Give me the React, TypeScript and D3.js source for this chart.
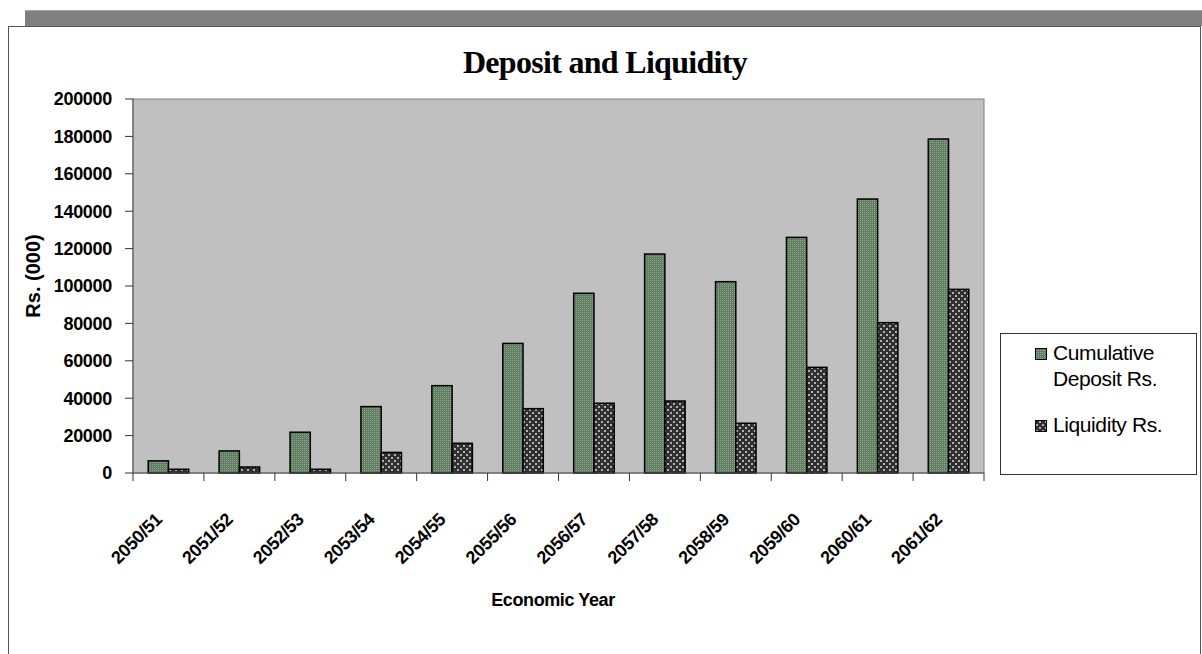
import React from "react";
import * as d3 from "d3";

const categories = ["2050/51", "2051/52", "2052/53", "2053/54", "2054/55", "2055/56", "2056/57", "2057/58", "2058/59", "2059/60", "2060/61", "2061/62"];
const deposit = [6500, 11800, 21800, 35500, 46700, 69300, 96100, 117100, 102300, 126000, 146500, 178600];
const liquidity = [2000, 3200, 2000, 11000, 15900, 34400, 37300, 38500, 26600, 56500, 80400, 98200];
const yTicks = [0, 20000, 40000, 60000, 80000, 100000, 120000, 140000, 160000, 180000, 200000];
const seriesNames = ["Cumulative Deposit Rs.", "Liquidity Rs."];

const W = 1202, H = 654;
const plot = { left: 133, right: 984, top: 99, bottom: 473 };
const sans = "'Liberation Sans', Arial, sans-serif";

export default function App() {
  const x0 = d3.scaleBand<string>().domain(categories).range([plot.left, plot.right]).padding(0);
  const bw = x0.bandwidth();
  const barW = bw / 3.5;
  const x1 = d3.scaleBand<string>().domain(seriesNames).range([0, barW * 2]).padding(0);
  const y = d3.scaleLinear().domain([0, 200000]).range([plot.bottom, plot.top]);
  const series = [
    { name: seriesNames[0], values: deposit, fill: "url(#patDep)" },
    { name: seriesNames[1], values: liquidity, fill: "url(#patLiq)" },
  ];
  const boundaries = categories.map((c) => x0(c)!).concat([plot.right]);

  return (
    <svg width={W} height={H} style={{ position: "absolute", left: 0, top: 0, background: "#fff" }}>
      <defs>
        <pattern id="patDep" width="2" height="2" patternUnits="userSpaceOnUse">
          <rect width="2" height="2" fill="#5f7d5f" />
          <rect width="1" height="1" fill="#93a893" />
        </pattern>
        <pattern id="patLiq" width="6" height="6" patternUnits="userSpaceOnUse">
          <rect width="6" height="6" fill="#303030" />
          <rect x="1" y="1" width="2" height="2" fill="#b0b0b0" />
          <rect x="4" y="4" width="2" height="2" fill="#b0b0b0" />
        </pattern>
      </defs>
      {/* frame */}
      <rect x={25} y={10} width={W - 25} height={16} fill="#808080" />
      <line x1={25} x2={W} y1={10.5} y2={10.5} stroke="#a8a8a8" />
      <rect x={8.5} y={26.5} width={1192} height={700} fill="#fff" stroke="#555" />

      {/* title */}
      <text x={605} y={73} textAnchor="middle" fontFamily="'Liberation Serif', 'Times New Roman', serif" fontWeight="bold" fontSize={32} letterSpacing={-0.7}>
        Deposit and Liquidity
      </text>

      {/* plot area */}
      <rect x={plot.left} y={plot.top} width={plot.right - plot.left} height={plot.bottom - plot.top} fill="#c0c0c0" stroke="#808080" />

      {/* bars */}
      {series.map((s) =>
        s.values.map((v, i) => {
          const bx = x0(categories[i])! + (bw - barW * 2) / 2 + x1(s.name)!;
          return (
            <rect key={s.name + i} x={bx} y={y(v)} width={x1.bandwidth()} height={plot.bottom - y(v)} fill={s.fill} stroke="#000" strokeWidth={1.5} />
          );
        })
      )}

      {/* axes */}
      <line x1={plot.left} x2={plot.left} y1={plot.top} y2={plot.bottom} stroke="#555" />
      <line x1={plot.left} x2={plot.right} y1={plot.bottom} y2={plot.bottom} stroke="#555" />
      {yTicks.map((t) => (
        <g key={t}>
          <line x1={plot.left - 8} x2={plot.left} y1={y(t)} y2={y(t)} stroke="#333" />
          <text x={plot.left - 21} y={y(t)} dy="0.36em" textAnchor="end" fontFamily={sans} fontWeight="bold" fontSize={18} letterSpacing={-0.3}>
            {t}
          </text>
        </g>
      ))}
      {boundaries.map((b, i) => (
        <line key={i} x1={b} x2={b} y1={plot.bottom} y2={plot.bottom + 8} stroke="#333" />
      ))}
      {categories.map((c) => {
        const px = x0(c)! + bw / 2 - 10;
        const py = 516;
        return (
          <text key={c} x={px} y={py} dy="0.36em" textAnchor="end" transform={`rotate(-45 ${px} ${py})`} fontFamily={sans} fontWeight="bold" fontSize={18} letterSpacing={-0.3}>
            {c}
          </text>
        );
      })}

      {/* axis titles */}
      <text x={553} y={606} textAnchor="middle" fontFamily={sans} fontWeight="bold" fontSize={18} letterSpacing={-0.4}>
        Economic Year
      </text>
      <text transform={`translate(40 ${(plot.top + plot.bottom) / 2 - 10}) rotate(-90)`} textAnchor="middle" fontFamily={sans} fontWeight="bold" fontSize={20}>
        Rs. (000)
      </text>

      {/* legend */}
      <rect x={1000.5} y={333.5} width={196} height={141} fill="#fff" stroke="#333" />
      <rect x={1035.5} y={348.5} width={11} height={11} fill="url(#patDep)" stroke="#000" />
      <text x={1053} y={360} fontFamily={sans} fontSize={21} letterSpacing={-0.4}>Cumulative</text>
      <text x={1053} y={386} fontFamily={sans} fontSize={21} letterSpacing={-0.4}>Deposit Rs.</text>
      <rect x={1035.5} y={420.5} width={11} height={11} fill="url(#patLiq)" stroke="#000" />
      <text x={1053} y={432} fontFamily={sans} fontSize={21} letterSpacing={-0.4}>Liquidity Rs.</text>
    </svg>
  );
}
